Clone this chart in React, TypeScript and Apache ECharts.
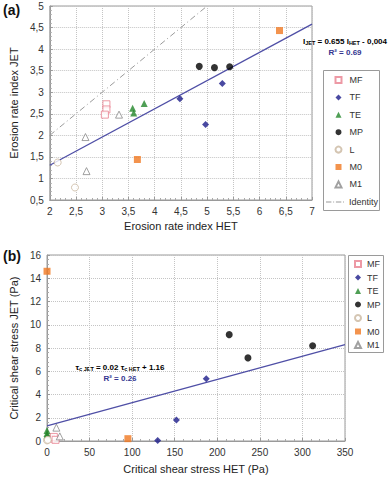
import React, { useEffect, useRef } from "react";
import * as echarts from "echarts";

// ---------- data (a): erosion rate index ----------
const names = ["MF", "TF", "TE", "MP", "L", "M0", "M1"];
const aMF = [[3.08, 2.72], [3.08, 2.6], [3.05, 2.48]];
const aTF = [[4.48, 2.85], [5.29, 3.2], [4.97, 2.25]];
const aTE = [[3.58, 2.63], [3.6, 2.52], [3.8, 2.74]];
const aMP = [[4.85, 3.6], [5.14, 3.57], [5.43, 3.59]];
const aL = [[2.15, 1.37], [2.48, 0.79]];
const aM0 = [[3.67, 1.44], [6.38, 4.43]];
const aM1 = [[3.32, 2.48], [2.68, 1.96], [2.7, 1.17]];
const aFit = [[2, 1.306], [7, 4.581]];
const aIdentity = [[2, 2], [5, 5]];

// ---------- data (b): critical shear stress ----------
const bMF = [[5, 0.2], [8, 0.35], [10, 0.1]];
const bTF = [[130, 0.05], [152, 1.8], [187, 5.35]];
const bTE = [[0, 0.9], [0, 0.65], [0, 0.5]];
const bMP = [[214, 9.15], [236, 7.15], [312, 8.2]];
const bL = [[0, 0.05], [1, 0.1]];
const bM0 = [[0, 14.6], [95, 0.2]];
const bM1 = [[11, 1.15], [15, 0.4]];
const bFit = [[0, 1.3], [350, 8.3]];

const FONT = "Liberation Sans, Arial, sans-serif";
const BLUE = "#34348f";

const styles: Record<string, any> = {
  MF: { symbol: "rect", size: 7, itemStyle: { color: "#ffffff", borderColor: "#e8808f", borderWidth: 1 } },
  TF: { symbol: "diamond", size: 7, itemStyle: { color: "#1c1c8a" } },
  TE: { symbol: "triangle", size: 7, itemStyle: { color: "#23872a" } },
  MP: { symbol: "circle", size: 7, itemStyle: { color: "#000000" } },
  L: { symbol: "circle", size: 7, itemStyle: { color: "#ffffff", borderColor: "#c9b79f", borderWidth: 1 } },
  M0: { symbol: "rect", size: 7, itemStyle: { color: "#f07820" } },
  M1: { symbol: "triangle", size: 7, itemStyle: { color: "#ffffff", borderColor: "#8a8a8a", borderWidth: 1 } },
};

const aData: Record<string, number[][]> = { MF: aMF, TF: aTF, TE: aTE, MP: aMP, L: aL, M0: aM0, M1: aM1 };
const bData: Record<string, number[][]> = { MF: bMF, TF: bTF, TE: bTE, MP: bMP, L: bL, M0: bM0, M1: bM1 };

const comma = (v: number) => String(v).replace(".", ",");

const DASHDOT = "path://M0,0L6,0L6,1L0,1Z M8,0L9,0L9,1L8,1Z M11,0L17,0L17,1L11,1Z M19,0L20,0L20,1L19,1Z";

function axisCommon() {
  return {
    axisLine: { show: true, lineStyle: { color: "#9a9a9a", width: 1 } },
    axisTick: { show: true, inside: true, length: 3, lineStyle: { color: "#9a9a9a" } },
    minorTick: { show: true, splitNumber: 5, length: 2, lineStyle: { color: "#aaaaaa" } },
    splitLine: { show: true, lineStyle: { color: "#c4c4c4", type: "dotted", width: 1 } },
    nameTextStyle: { fontFamily: FONT, fontSize: 11, color: "#222" },
    nameLocation: "middle",
  };
}

export default function App() {
  const ref = useRef<HTMLDivElement>(null);
  useEffect(() => {
    if (!ref.current) return;
    const chart = echarts.init(ref.current, null, { renderer: "svg" });

    const series: any[] = [];
    names.forEach((n) => {
      series.push({
        name: n, type: "scatter", xAxisIndex: 0, yAxisIndex: 0, data: aData[n],
        symbol: styles[n].symbol, symbolSize: styles[n].size, itemStyle: styles[n].itemStyle, z: 5,
      });
    });
    names.forEach((n) => {
      series.push({
        name: n, type: "scatter", xAxisIndex: 1, yAxisIndex: 1, data: bData[n],
        symbol: styles[n].symbol, symbolSize: styles[n].size, itemStyle: styles[n].itemStyle, z: 5,
      });
    });
    series.push({
      name: "Identity", type: "line", xAxisIndex: 0, yAxisIndex: 0, data: aIdentity, symbol: "none",
      lineStyle: { color: "#9a9a9a", width: 1, type: [6, 3, 1, 3] }, itemStyle: { color: "#9a9a9a" }, z: 3,
    });
    series.push({
      name: "fitA", type: "line", xAxisIndex: 0, yAxisIndex: 0, data: aFit, symbol: "none",
      lineStyle: { color: "#4f4fa6", width: 1.3 }, z: 4,
    });
    series.push({
      name: "fitB", type: "line", xAxisIndex: 1, yAxisIndex: 1, data: bFit, symbol: "none",
      lineStyle: { color: "#4f4fa6", width: 1.3 }, z: 4,
    });

    const labelStyle = { fontFamily: FONT, fontSize: 10, color: "#333" };
    const richEq = {
      n: { fontFamily: FONT, fontSize: 8, fontWeight: "bold", color: BLUE },
      s: { fontFamily: FONT, fontSize: 5.5, fontWeight: "bold", color: BLUE, padding: [4, 0, 0, 0] },
    };

    chart.setOption({
      animation: false,
      backgroundColor: "#ffffff",
      textStyle: { fontFamily: FONT },
      grid: [
        { left: 40, top: 6, width: 272, height: 194, show: true, borderColor: "#9a9a9a", borderWidth: 1, backgroundColor: "transparent" },
        { left: 40, top: 255, width: 305, height: 186, show: true, borderColor: "#9a9a9a", borderWidth: 1, backgroundColor: "transparent" },
      ],
      xAxis: [
        {
          ...axisCommon(), type: "value", gridIndex: 0, min: 2, max: 7, interval: 0.5,
          name: "Erosion rate index HET", nameGap: 20,
          axisLabel: { ...labelStyle, margin: 6, formatter: comma },
        },
        {
          ...axisCommon(), type: "value", gridIndex: 1, min: 0, max: 350, interval: 50,
          name: "Critical shear stress HET (Pa)", nameGap: 22,
          axisLabel: { ...labelStyle, margin: 6 },
        },
      ],
      yAxis: [
        {
          ...axisCommon(), type: "value", gridIndex: 0, min: 0.5, max: 5, interval: 0.5,
          name: "Erosion rate index JET", nameGap: 28,
          axisLabel: { ...labelStyle, margin: 6, formatter: comma },
        },
        {
          ...axisCommon(), type: "value", gridIndex: 1, min: 0, max: 16, interval: 2,
          name: "Critical shear stress JET (Pa)", nameGap: 27,
          axisLabel: { ...labelStyle, margin: 6 },
        },
      ],
      legend: [
        {
          data: names, orient: "vertical", left: 334.5, top: 75.5,
          itemWidth: 6, itemHeight: 6, itemGap: 8.4, padding: 0,
          textStyle: { fontFamily: FONT, fontSize: 9, color: "#333", padding: [0, 0, 0, 3] },
          selectedMode: false,
        },
        {
          data: [{ name: "Identity", icon: DASHDOT, itemStyle: { color: "#9a9a9a" } }],
          orient: "vertical", left: 326, top: 197.5,
          itemWidth: 18, itemHeight: 1, padding: 0,
          textStyle: { fontFamily: FONT, fontSize: 9, color: "#333" },
          selectedMode: false,
        },
        {
          data: names, orient: "vertical", left: 354, top: 259.5,
          itemWidth: 6, itemHeight: 6, itemGap: 4.5, padding: 0,
          textStyle: { fontFamily: FONT, fontSize: 9, color: "#333", padding: [0, 0, 0, 1] },
          selectedMode: false,
        },
      ],
      graphic: [
        { type: "rect", shape: { x: 323.5, y: 70.5, width: 56, height: 140 }, style: { fill: "#fff", stroke: "#9a9a9a", lineWidth: 1 }, z: 1 },
        { type: "rect", shape: { x: 348.5, y: 255.5, width: 35, height: 97 }, style: { fill: "#fff", stroke: "#9a9a9a", lineWidth: 1 }, z: 1 },
        { type: "text", left: 3, top: 3, style: { text: "(a)", font: `bold 14px ${FONT}`, fill: "#111" } },
        { type: "text", left: 3, top: 249, style: { text: "(b)", font: `bold 14px ${FONT}`, fill: "#111" } },
        {
          type: "text", x: 345, y: 41,
          style: { text: "{n|I}{s|JET}{n| = 0.655 I}{s|HET}{n| - 0,004}", align: "center", verticalAlign: "middle", rich: richEq },
        },
        { type: "text", x: 345, y: 52, style: { text: "R² = 0.69", align: "center", verticalAlign: "middle", font: `bold 8px ${FONT}`, fill: BLUE } },
        {
          type: "text", x: 120, y: 367,
          style: { text: "{n|τ}{s|c JET}{n| = 0.02 τ}{s|c HET}{n| + 1.16}", align: "center", verticalAlign: "middle", rich: richEq },
        },
        { type: "text", x: 120, y: 378, style: { text: "R² = 0.26", align: "center", verticalAlign: "middle", font: `bold 8px ${FONT}`, fill: BLUE } },
      ],
      series,
    });
    return () => chart.dispose();
  }, []);
  return <div ref={ref} style={{ width: 389, height: 477, position: "absolute", left: 0, top: 0 }} />;
}
